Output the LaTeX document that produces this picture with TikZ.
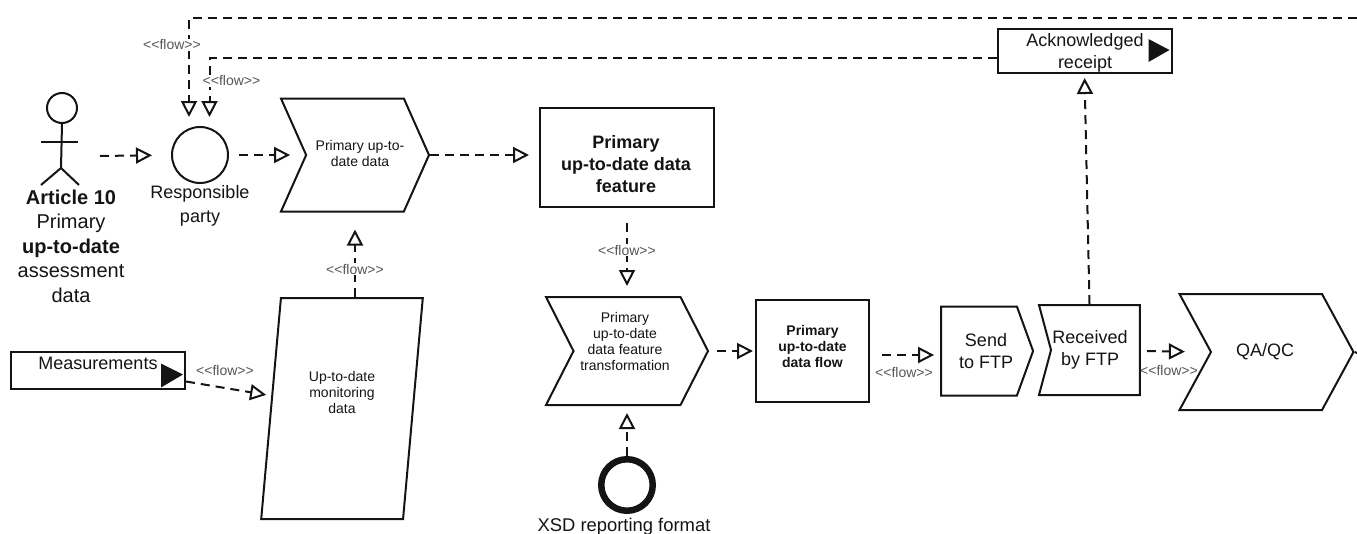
\documentclass[tikz,border=0pt]{standalone}
\usepackage{fontspec}
\setmainfont{Liberation Sans}
\usetikzlibrary{positioning,arrows.meta,shapes.geometric,shapes.symbols,calc}

\definecolor{ink}{HTML}{141414}
\definecolor{tagink}{HTML}{555555}

\tikzset{
  every node/.style={text=ink},
  txtS/.style={font=\fontsize{14}{16}\selectfont, align=center},
  txtM/.style={font=\fontsize{18}{22}\selectfont, align=center},
  txtB/.style={font=\fontsize{20}{24.5}\selectfont, align=center},
  box/.style={draw=ink, line width=2pt, rectangle, inner sep=0pt},
  chevron/.style={draw=ink, line width=2pt, signal, inner sep=0pt},
  flow/.style={draw=ink, line width=2pt, dash pattern=on 9pt off 6pt,
    -{Triangle[open, length=16pt, width=16pt, line width=2pt]}},
  flowtag/.style={font=\fontsize{14}{16}\selectfont, text=tagink, fill=white, inner sep=1pt},
}

\newcommand{\flowtext}{<{}<flow>{}>}

\begin{document}
\begin{tikzpicture}[on grid]
  \useasboundingbox (0,0) rectangle (1357pt,-533pt);

  \node[circle, draw=ink, line width=2pt, minimum size=56pt, inner sep=0pt] (party) at (200pt,-155pt) {};
  \node[txtM, font=\fontsize{18}{24}\selectfont, below=51pt of party] (partytxt) {Responsible\\party};

  \node[circle, draw=ink, line width=2pt, minimum size=30pt, inner sep=0pt] (head) at (62pt,-108pt) {};
  \draw[ink, line width=2pt] (head.south) -- ++(-1pt,-44pt) coordinate (hip);
  \draw[ink, line width=2pt] (41pt,-142pt) -- (78pt,-142pt);
  \draw[ink, line width=2pt] (41pt,-185pt) -- (hip) -- (79pt,-185pt);
  \node[txtB, anchor=north] (actortxt) at (71pt,-186pt) {\textbf{Article 10}\\Primary\\\textbf{up-to-date}\\assessment\\data};
  \coordinate (actorout) at (100pt,-156pt);

  \node[chevron, signal from=west, signal to=east, signal pointer angle=132,
    minimum width=148pt, minimum height=113pt, right=155pt of party] (data) {};
  \node[txtS, at={(360pt,-153pt)}] (datatxt) {Primary up-to-\\date data};

  \node[box, minimum width=174pt, minimum height=99pt, right=272pt of data, yshift=-2.5pt] (feature) {};
  \node[txtM, font=\fontsize{18}{22}\selectfont\bfseries, at={(626pt,-164pt)}] (featuretxt)
    {Primary\\up-to-date data\\feature};

  \node[chevron, signal from=west, signal to=east, signal pointer angle=126,
    minimum width=162pt, minimum height=108pt, below=193.5pt of feature] (transform) {};
  \node[txtS, at={(625pt,-341pt)}] (transformtxt) {Primary\\up-to-date\\data feature\\transformation};

  \node[box, txtS, minimum width=113pt, minimum height=102pt, right=185.5pt of transform] (dataflow)
    {\textbf{Primary}\\\textbf{up-to-date}\\\textbf{data flow}\\[-6pt]\mbox{}};

  \node[chevron, signal from=nowhere, signal to=east, signal pointer angle=140,
    minimum width=92pt, minimum height=89pt, right=166.5pt of dataflow] (send) {};
  \node[txtM, at={(986pt,-351pt)}] (sendtxt) {Send\\to FTP};

  \node[chevron, signal from=west, signal to=nowhere, signal pointer angle=150,
    minimum width=101pt, minimum height=90pt, right=116.5pt of send, yshift=1pt] (received) {};
  \node[txtM, at={(1090pt,-350pt)}] (receivedtxt) {Received\\by FTP};

  \node[chevron, signal from=west, signal to=east, signal pointer angle=123,
    minimum width=174pt, minimum height=116pt, right=171pt of received, yshift=-2pt] (qa) {};
  \node[txtM, at={(1265pt,-352pt)}] (qatxt) {QA/QC};
  \coordinate (qaout) at (1357pt,-353pt);

  \node[box, minimum width=174pt, minimum height=44pt, above=299pt of received, xshift=-11pt] (ack) {};
  \node[txtM, at={(1085pt,-53pt)}] (acktxt) {Acknowledged\\receipt};
  \fill[ink] ([shift={(-24pt,12pt)}]ack.east) -- ([shift={(-3pt,1pt)}]ack.east) -- ([shift={(-24pt,-11pt)}]ack.east) -- cycle;

  \node[trapezium, draw=ink, line width=2pt, trapezium left angle=81.8, trapezium right angle=98.2,
    trapezium stretches=true, inner sep=0pt, minimum width=162pt, minimum height=221pt,
    txtS, below=253.5pt of data, xshift=-13pt] (monitor) {Up-to-date\\monitoring\\data\\\mbox{}\\\mbox{}};

  \node[box, txtM, minimum width=174pt, minimum height=37pt] (measure) at (98pt,-370.5pt) {Measurements\\[-8pt]\mbox{}};
  \fill[ink] ([shift={(-25pt,7pt)}]measure.east) -- ([shift={(-3pt,-4pt)}]measure.east) -- ([shift={(-25pt,-17pt)}]measure.east) -- cycle;

  \node[circle, draw=ink, line width=6.5pt, minimum size=51.5pt, inner sep=0pt, below=134pt of transform] (xsd) {};
  \node[txtM, font=\fontsize{18.4}{22}\selectfont, below=42pt of xsd, xshift=-3pt] (xsdtxt) {XSD reporting format};

  \coordinate (topout) at (1357pt,-18pt);

  \draw[flow, shorten >=19pt] (actorout) -- (party.west);
  \draw[flow, shorten <=10pt, shorten >=15pt] (party.east) -- (data.west);
  \draw[flow, shorten >=10pt] (data.east) -- (data.east -| feature.west);
  \draw[flow, shorten <=15pt, shorten >=10pt] (feature.south) -- (transform.north)
    node[flowtag, pos=.48] (tag1) {\flowtext};
  \draw[flow, shorten >=17pt] (data.south |- monitor.north) -- (data.south)
    node[flowtag, pos=.33] (tag2) {\flowtext};
  \draw[flow, shorten >=4pt] ([yshift=-11pt]measure.east) -- ([yshift=13pt]monitor.west);
  \node[flowtag, fill=none] (tag3) at (225pt,-370pt) {\flowtext};
  \draw[flow, shorten >=7pt] (xsd.north) -- (xsd.north |- transform.south);
  \draw[flow, shorten <=8pt, shorten >=2pt] (transform.east) -- (dataflow.west);
  \draw[flow, shorten <=12pt, shorten >=6pt] ([yshift=-4pt]dataflow.east) -- ([yshift=-4pt]send.west);
  \node[flowtag, fill=none] (tag4) at (904pt,-372pt) {\flowtext};
  \draw[flow, shorten <=6pt, shorten >=25pt] ([yshift=-1pt]received.east) -- (qa.west);
  \node[flowtag, fill=none] (tag5) at (1169pt,-370pt) {\flowtext};
  \draw[flow, shorten >=4pt] ([xshift=-6pt]received.north) -- (ack.south);
  \draw[flow, shorten >=9pt] ([yshift=-7pt]ack.west) -| ([xshift=9.5pt]party.north)
    node[flowtag, pos=.667, xshift=22pt] (tag6) {\flowtext};
  \draw[flow, shorten >=9pt] (topout) -| ([xshift=-11pt]party.north)
    node[flowtag, pos=.624, xshift=-17pt] (tag7) {\flowtext};
  \draw[ink, line width=2pt] (qa.east) -- (qaout);
\end{tikzpicture}
\end{document}
